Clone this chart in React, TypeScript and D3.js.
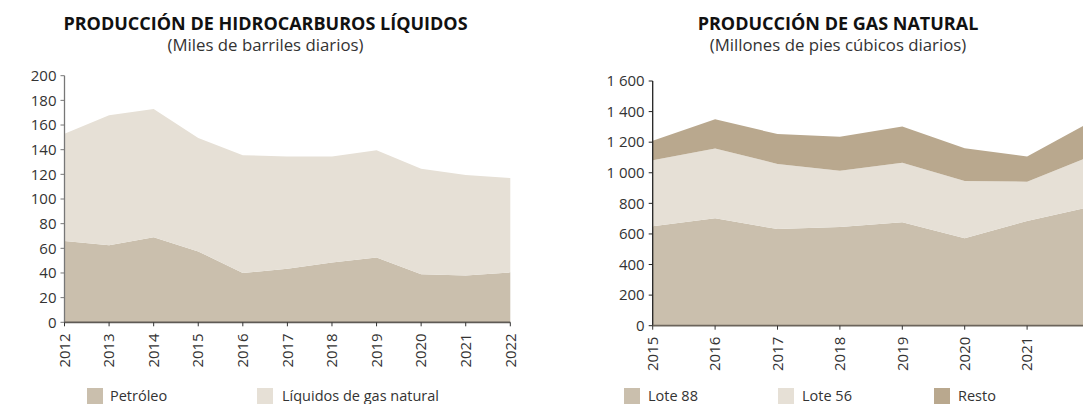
import React, { useEffect, useRef } from "react";
import * as d3 from "d3";

const liqYears = [2012, 2013, 2014, 2015, 2016, 2017, 2018, 2019, 2020, 2021, 2022];
const petroleo = [66, 62.5, 69, 57.5, 40, 43.5, 48.5, 52.5, 39, 38, 40.5];
const lgn = [87, 105.5, 104, 92, 95.5, 91, 86, 87, 85.5, 81.5, 76.5];
const liqTicks = [0, 20, 40, 60, 80, 100, 120, 140, 160, 180, 200];

const gasYears = [2015, 2016, 2017, 2018, 2019, 2020, 2021, 2022];
const lote88 = [650, 702, 632, 645, 677, 571, 685, 775];
const lote56 = [432, 457, 426, 368, 388, 375, 257, 330];
const resto = [128, 191, 195, 223, 238, 215, 165, 224];
const gasTicks = [0, 200, 400, 600, 800, 1000, 1200, 1400, 1600];

const C_LOW = "#cabfad";
const C_MID = "#e6e0d6";
const C_TOP = "#b9a88e";
const FONT = "'Open Sans', sans-serif";

export default function App() {
  const ref = useRef<SVGSVGElement>(null);

  useEffect(() => {
    document.body.style.margin = "0";
    const svg = d3.select(ref.current);
    svg.selectAll("*").remove();

    const fmt = d3.formatLocale({ decimal: ",", thousands: "\u2009", grouping: [3], currency: ["", ""] }).format(",d");
    const fmtSp = (v: number) => fmt(v).replace("\u2009", " ");

    function drawChart(opts: {
      years: number[];
      series: number[][];
      colors: string[];
      keys: string[];
      x0: number; x1: number; y0: number; y1: number; max: number;
      ticks: number[];
      tickFmt: (v: number) => string;
      axisColor: string;
      baseColor: string;
      title: string; subtitle: string; titleX: number;
      legend: { x: number; tx: number }[];
    }) {
      const g = svg.append("g");
      const x = d3.scalePoint<number>().domain(opts.years).range([opts.x0, opts.x1]);
      const y = d3.scaleLinear().domain([0, opts.max]).range([opts.y0, opts.y1]);
      const rows = opts.years.map((yr, i) => {
        const r: any = { year: yr };
        opts.keys.forEach((k, j) => (r[k] = opts.series[j][i]));
        return r;
      });
      const stack = d3.stack<any>().keys(opts.keys)(rows);
      const area = d3
        .area<any>()
        .x((d) => x(d.data.year) as number)
        .y0((d) => y(d[0]))
        .y1((d) => y(d[1]));
      g.selectAll("path.layer")
        .data(stack)
        .enter()
        .append("path")
        .attr("d", (d: any) => area(d) as string)
        .attr("fill", (_d, i) => opts.colors[i]);

      // y axis
      const ya = g.append("g").attr("transform", `translate(${opts.x0},0)`);
      ya.append("line").attr("x1", 0).attr("x2", 0).attr("y1", y(0)).attr("y2", y(opts.max))
        .attr("stroke", opts.axisColor).attr("stroke-width", 1.3);
      opts.ticks.forEach((t) => {
        ya.append("line").attr("x1", -4).attr("x2", 0).attr("y1", y(t)).attr("y2", y(t))
          .attr("stroke", opts.axisColor).attr("stroke-width", 1);
        ya.append("text").attr("x", -8).attr("y", y(t)).attr("dy", "0.35em")
          .attr("text-anchor", "end").attr("font-family", FONT).attr("font-size", 15)
          .attr("fill", "#333").text(opts.tickFmt(t));
      });
      // x axis
      const xa = g.append("g").attr("transform", `translate(0,${opts.y0})`);
      xa.append("line").attr("x1", opts.x0).attr("x2", opts.x1).attr("y1", 0).attr("y2", 0)
        .attr("stroke", opts.baseColor).attr("stroke-width", 1.8);
      opts.years.forEach((yr) => {
        const px = x(yr) as number;
        xa.append("line").attr("x1", px).attr("x2", px).attr("y1", 0).attr("y2", 4)
          .attr("stroke", "#333").attr("stroke-width", 1);
        xa.append("text")
          .attr("transform", `translate(${px},11) rotate(-90)`)
          .attr("dy", "0.35em").attr("text-anchor", "end")
          .attr("font-family", FONT).attr("font-size", 15).attr("fill", "#333")
          .text(String(yr));
      });
      // titles
      g.append("text").attr("x", opts.titleX).attr("y", 30).attr("text-anchor", "middle")
        .attr("font-family", FONT).attr("font-weight", 700).attr("font-size", 18)
        .attr("fill", "#111").text(opts.title);
      g.append("text").attr("x", opts.titleX).attr("y", 51).attr("text-anchor", "middle")
        .attr("font-family", FONT).attr("font-size", 16.8)
        .attr("fill", "#333").text(opts.subtitle);
      // legend
      opts.legend.forEach((l, i) => {
        g.append("rect").attr("x", l.x).attr("y", 388).attr("width", 16).attr("height", 16)
          .attr("fill", opts.colors[i]);
        g.append("text").attr("x", l.tx).attr("y", 401).attr("font-family", FONT)
          .attr("font-size", 14.5).attr("fill", "#333").text(opts.keys[i]);
      });
    }

    drawChart({
      years: liqYears,
      series: [petroleo, lgn],
      colors: [C_LOW, C_MID],
      keys: ["Petróleo", "Líquidos de gas natural"],
      x0: 64.5, x1: 510.3, y0: 322.3, y1: 75.7, max: 200,
      ticks: liqTicks,
      tickFmt: (v) => String(v),
      axisColor: "#777",
      baseColor: "#5e5a55",
      title: "PRODUCCIÓN DE HIDROCARBUROS LÍQUIDOS",
      subtitle: "(Miles de barriles diarios)",
      titleX: 265.5,
      legend: [{ x: 87, tx: 110 }, { x: 257, tx: 282 }],
    });

    drawChart({
      years: gasYears,
      series: [lote88, lote56, resto],
      colors: [C_LOW, C_MID, C_TOP],
      keys: ["Lote 88", "Lote 56", "Resto"],
      x0: 652.7, x1: 1089.5, y0: 325.7, y1: 81, max: 1600,
      ticks: gasTicks,
      tickFmt: fmtSp,
      axisColor: "#222",
      baseColor: "#6b645b",
      title: "PRODUCCIÓN DE GAS NATURAL",
      subtitle: "(Millones de pies cúbicos diarios)",
      titleX: 838,
      legend: [{ x: 624, tx: 648 }, { x: 778, tx: 802 }, { x: 934, tx: 958 }],
    });
  }, []);

  return (
    <svg
      ref={ref}
      width={1083}
      height={404}
      style={{ position: "absolute", left: 0, top: 0, background: "#fff", display: "block" }}
    />
  );
}
